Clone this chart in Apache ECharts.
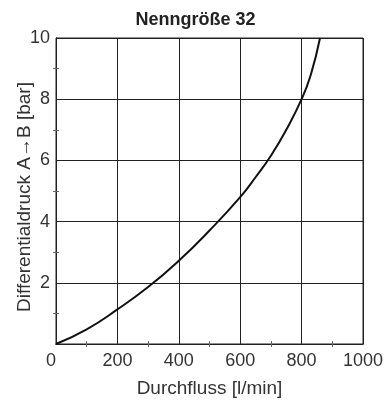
<!DOCTYPE html>
<html><head><meta charset="utf-8">
<script src="https://cdn.jsdelivr.net/npm/echarts@6/dist/echarts.min.js"></script>
<style>html,body{margin:0;padding:0;background:#fff}#c{width:391px;height:406px}</style>
</head><body><div id="c"></div>
<script>
const title = "Nenngröße 32";
const xName = "Durchfluss [l/min]";
const yName = "Differentialdruck A→B [bar]";
const flow = [0, 100, 200, 300, 400, 500, 600, 650, 700, 750, 800, 830, 860];
const pressure = [0, 0.48, 1.13, 1.86, 2.72, 3.71, 4.8, 5.45, 6.15, 7.0, 8.0, 8.8, 10];

const chart = echarts.init(document.getElementById('c'));
const font = "Liberation Sans";
const minor = {show: true, splitNumber: 2, length: 3, lineStyle: {color: '#666'}};
const plain = (v) => String(v);
chart.setOption({
  animation: false,
  title: {text: title, left: 'center', top: 6, textStyle: {fontFamily: font, fontWeight: 'bold', fontSize: 18, color: '#222'}},
  grid: {left: 56, right: 28, top: 38, bottom: 62, show: true, borderColor: '#222', borderWidth: 1,
         containLabel: false, outerBoundsMode: 'none'},
  xAxis: [{
    type: 'value', min: 0, max: 1000, interval: 200,
    name: xName, nameLocation: 'middle', nameGap: 35, nameMoveOverlap: false,
    nameTextStyle: {fontFamily: font, fontSize: 19, color: '#333'},
    axisLine: {show: true, lineStyle: {color: '#222'}},
    axisTick: {show: false, inside: true},
    minorTick: minor,
    axisLabel: {fontFamily: font, fontSize: 18, color: '#333', margin: 8, formatter: plain, alignMinLabel: 'right'},
    splitLine: {show: true, lineStyle: {color: '#222', width: 1}}
  }, {
    type: 'value', position: 'top', min: 0, max: 1000, interval: 200,
    axisLine: {show: true, lineStyle: {color: '#222'}},
    axisTick: {show: false, inside: true},
    minorTick: minor,
    axisLabel: {show: false},
    splitLine: {show: false}
  }],
  yAxis: [{
    type: 'value', min: 0, max: 10, interval: 2,
    name: yName, nameLocation: 'middle', nameGap: 22, nameMoveOverlap: false,
    nameTextStyle: {fontFamily: font, fontSize: 19, color: '#333', padding: [0, 12, 0, 0]},
    axisLine: {show: true, lineStyle: {color: '#222'}},
    axisTick: {show: false, inside: true},
    minorTick: minor,
    axisLabel: {fontFamily: font, fontSize: 18, color: '#333', margin: 6, showMinLabel: false},
    splitLine: {show: true, lineStyle: {color: '#222', width: 1}}
  }, {
    type: 'value', position: 'right', min: 0, max: 10, interval: 2,
    axisLine: {show: true, lineStyle: {color: '#222'}},
    axisTick: {show: false, inside: true},
    minorTick: minor,
    axisLabel: {show: false},
    splitLine: {show: false}
  }],
  series: [{
    type: 'line', xAxisIndex: 0, yAxisIndex: 0,
    data: flow.map((x, i) => [x, pressure[i]]),
    smooth: 0.5, showSymbol: false, clip: true,
    lineStyle: {color: '#111', width: 2}
  }]
});
</script></body></html>
